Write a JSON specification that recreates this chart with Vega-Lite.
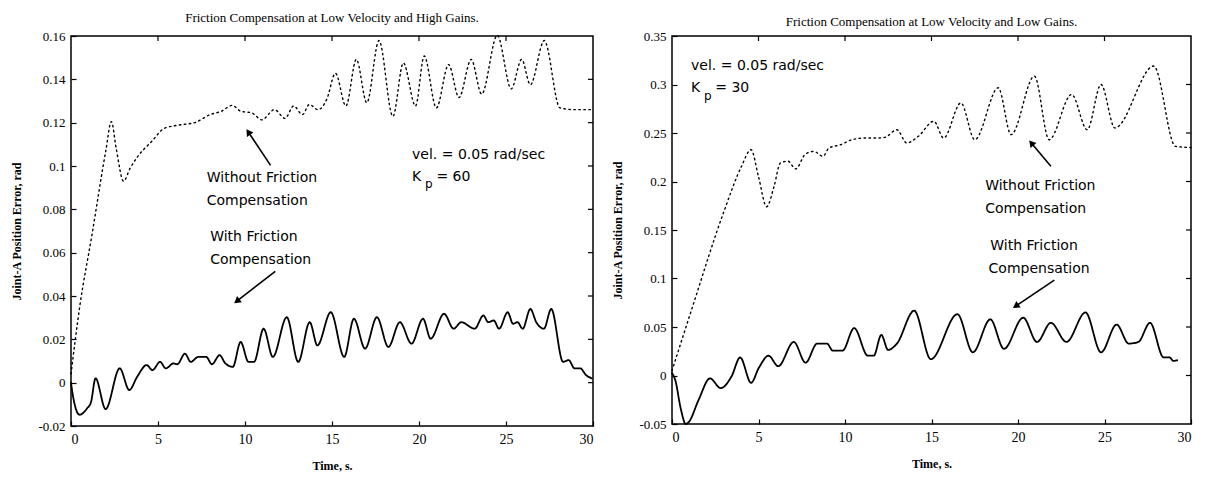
{
  "$schema": "https://vega.github.io/schema/vega-lite/v6.json",
  "padding": {"left": 10, "top": 11, "right": 5, "bottom": 5},
  "spacing": 14,
  "config": {
    "view": {"stroke": "black", "strokeWidth": 1.5},
    "axis": {"grid": false, "domain": false, "tickColor": "black", "tickSize": -5, "tickWidth": 1.2, "labelColor": "black", "titleColor": "black", "labelFont": "Liberation Serif", "titleFont": "Liberation Serif", "labelFontSize": 13, "titleFontSize": 12, "titleFontWeight": "bold"},
    "title": {"font": "Liberation Serif", "fontSize": 13, "fontWeight": "normal", "color": "black"},
    "text": {"font": "DejaVu Sans", "fontSize": 14, "letterSpacing": 1, "color": "black"}
  },
  "datasets": {
    "leftCurves": [
      {"t": 0, "v": 0.004, "s": "without"}, {"t": 0.5, "v": 0.035, "s": "without"}, {"t": 1.2, "v": 0.068, "s": "without"}, {"t": 2.0, "v": 0.107, "s": "without"}, {"t": 2.32, "v": 0.1205, "s": "without"}, {"t": 2.6, "v": 0.108, "s": "without"}, {"t": 3.02, "v": 0.093, "s": "without"}, {"t": 3.4, "v": 0.099, "s": "without"}, {"t": 3.8, "v": 0.104, "s": "without"}, {"t": 4.68, "v": 0.1117, "s": "without"}, {"t": 5.34, "v": 0.1173, "s": "without"}, {"t": 6.2, "v": 0.1189, "s": "without"}, {"t": 7.1, "v": 0.12, "s": "without"}, {"t": 7.99, "v": 0.1237, "s": "without"}, {"t": 8.65, "v": 0.1253, "s": "without"}, {"t": 9.27, "v": 0.128, "s": "without"}, {"t": 9.75, "v": 0.1253, "s": "without"}, {"t": 10.4, "v": 0.1245, "s": "without"}, {"t": 10.96, "v": 0.1213, "s": "without"}, {"t": 11.7, "v": 0.126, "s": "without"}, {"t": 12.3, "v": 0.122, "s": "without"}, {"t": 12.8, "v": 0.1277, "s": "without"}, {"t": 13.3, "v": 0.1237, "s": "without"}, {"t": 13.7, "v": 0.1284, "s": "without"}, {"t": 14.2, "v": 0.126, "s": "without"}, {"t": 14.7, "v": 0.1308, "s": "without"}, {"t": 15.2, "v": 0.1428, "s": "without"}, {"t": 15.8, "v": 0.1277, "s": "without"}, {"t": 16.4, "v": 0.1492, "s": "without"}, {"t": 17.0, "v": 0.1292, "s": "without"}, {"t": 17.7, "v": 0.1579, "s": "without"}, {"t": 18.5, "v": 0.1229, "s": "without"}, {"t": 19.1, "v": 0.1476, "s": "without"}, {"t": 19.8, "v": 0.1277, "s": "without"}, {"t": 20.3, "v": 0.1508, "s": "without"}, {"t": 21.0, "v": 0.1268, "s": "without"}, {"t": 21.7, "v": 0.1468, "s": "without"}, {"t": 22.3, "v": 0.1316, "s": "without"}, {"t": 23.0, "v": 0.1492, "s": "without"}, {"t": 23.6, "v": 0.1332, "s": "without"}, {"t": 24.5, "v": 0.1603, "s": "without"}, {"t": 25.3, "v": 0.1356, "s": "without"}, {"t": 25.9, "v": 0.1492, "s": "without"}, {"t": 26.4, "v": 0.1375, "s": "without"}, {"t": 27.2, "v": 0.1579, "s": "without"}, {"t": 28.1, "v": 0.1268, "s": "without"}, {"t": 29.0, "v": 0.126, "s": "without"}, {"t": 30, "v": 0.126, "s": "without"},
      {"t": 0, "v": 0.0, "s": "with"}, {"t": 0.09, "v": -0.005, "s": "with"}, {"t": 0.49, "v": -0.0148, "s": "with"}, {"t": 0.93, "v": -0.0118, "s": "with"}, {"t": 1.15, "v": -0.009, "s": "with"}, {"t": 1.41, "v": 0.002, "s": "with"}, {"t": 1.99, "v": -0.0122, "s": "with"}, {"t": 2.8, "v": 0.0066, "s": "with"}, {"t": 3.35, "v": -0.0034, "s": "with"}, {"t": 3.8, "v": 0.0027, "s": "with"}, {"t": 4.35, "v": 0.0081, "s": "with"}, {"t": 4.68, "v": 0.0058, "s": "with"}, {"t": 5.12, "v": 0.0096, "s": "with"}, {"t": 5.45, "v": 0.0066, "s": "with"}, {"t": 5.89, "v": 0.0089, "s": "with"}, {"t": 6.11, "v": 0.0085, "s": "with"}, {"t": 6.55, "v": 0.0134, "s": "with"}, {"t": 6.88, "v": 0.0096, "s": "with"}, {"t": 7.32, "v": 0.0119, "s": "with"}, {"t": 7.77, "v": 0.0119, "s": "with"}, {"t": 8.1, "v": 0.0085, "s": "with"}, {"t": 8.54, "v": 0.0127, "s": "with"}, {"t": 8.87, "v": 0.0089, "s": "with"}, {"t": 9.3, "v": 0.0073, "s": "with"}, {"t": 9.75, "v": 0.0188, "s": "with"}, {"t": 10.2, "v": 0.0096, "s": "with"}, {"t": 10.52, "v": 0.0096, "s": "with"}, {"t": 11.07, "v": 0.0249, "s": "with"}, {"t": 11.6, "v": 0.0119, "s": "with"}, {"t": 12.4, "v": 0.0302, "s": "with"}, {"t": 13.06, "v": 0.0096, "s": "with"}, {"t": 13.72, "v": 0.0279, "s": "with"}, {"t": 14.16, "v": 0.0172, "s": "with"}, {"t": 14.93, "v": 0.0325, "s": "with"}, {"t": 15.7, "v": 0.0119, "s": "with"}, {"t": 16.26, "v": 0.0295, "s": "with"}, {"t": 16.9, "v": 0.0157, "s": "with"}, {"t": 17.58, "v": 0.0302, "s": "with"}, {"t": 18.24, "v": 0.0165, "s": "with"}, {"t": 18.9, "v": 0.0279, "s": "with"}, {"t": 19.57, "v": 0.018, "s": "with"}, {"t": 20.23, "v": 0.0295, "s": "with"}, {"t": 20.67, "v": 0.0203, "s": "with"}, {"t": 21.44, "v": 0.0318, "s": "with"}, {"t": 21.99, "v": 0.0249, "s": "with"}, {"t": 22.43, "v": 0.0279, "s": "with"}, {"t": 23.2, "v": 0.0249, "s": "with"}, {"t": 23.7, "v": 0.031, "s": "with"}, {"t": 23.98, "v": 0.0279, "s": "with"}, {"t": 24.3, "v": 0.0287, "s": "with"}, {"t": 24.6, "v": 0.0249, "s": "with"}, {"t": 25.1, "v": 0.0325, "s": "with"}, {"t": 25.4, "v": 0.0272, "s": "with"}, {"t": 25.66, "v": 0.0279, "s": "with"}, {"t": 25.96, "v": 0.0249, "s": "with"}, {"t": 26.4, "v": 0.034, "s": "with"}, {"t": 26.74, "v": 0.0279, "s": "with"}, {"t": 27.18, "v": 0.0249, "s": "with"}, {"t": 27.6, "v": 0.034, "s": "with"}, {"t": 28.28, "v": 0.0096, "s": "with"}, {"t": 28.6, "v": 0.0104, "s": "with"}, {"t": 28.94, "v": 0.0066, "s": "with"}, {"t": 29.27, "v": 0.0066, "s": "with"}, {"t": 29.6, "v": 0.0035, "s": "with"}, {"t": 29.93, "v": 0.002, "s": "with"}
    ],
    "rightCurves": [
      {"t": 0, "v": 0.005, "s": "without"}, {"t": 1.08, "v": 0.065, "s": "without"}, {"t": 3.0, "v": 0.169, "s": "without"}, {"t": 4.0, "v": 0.215, "s": "without"}, {"t": 4.57, "v": 0.2328, "s": "without"}, {"t": 5.0, "v": 0.205, "s": "without"}, {"t": 5.47, "v": 0.174, "s": "without"}, {"t": 5.9, "v": 0.195, "s": "without"}, {"t": 6.26, "v": 0.219, "s": "without"}, {"t": 6.7, "v": 0.221, "s": "without"}, {"t": 7.15, "v": 0.213, "s": "without"}, {"t": 7.7, "v": 0.228, "s": "without"}, {"t": 8.2, "v": 0.231, "s": "without"}, {"t": 8.73, "v": 0.226, "s": "without"}, {"t": 9.07, "v": 0.2345, "s": "without"}, {"t": 9.74, "v": 0.2379, "s": "without"}, {"t": 10.4, "v": 0.2431, "s": "without"}, {"t": 11.1, "v": 0.2448, "s": "without"}, {"t": 11.8, "v": 0.2448, "s": "without"}, {"t": 12.3, "v": 0.2455, "s": "without"}, {"t": 13.0, "v": 0.2534, "s": "without"}, {"t": 13.57, "v": 0.2397, "s": "without"}, {"t": 14.24, "v": 0.2466, "s": "without"}, {"t": 15.14, "v": 0.2621, "s": "without"}, {"t": 15.7, "v": 0.2448, "s": "without"}, {"t": 16.7, "v": 0.281, "s": "without"}, {"t": 17.5, "v": 0.2431, "s": "without"}, {"t": 18.86, "v": 0.2966, "s": "without"}, {"t": 19.6, "v": 0.2483, "s": "without"}, {"t": 20.95, "v": 0.3086, "s": "without"}, {"t": 21.8, "v": 0.2431, "s": "without"}, {"t": 23.1, "v": 0.2897, "s": "without"}, {"t": 24.0, "v": 0.2534, "s": "without"}, {"t": 24.8, "v": 0.3, "s": "without"}, {"t": 25.6, "v": 0.2552, "s": "without"}, {"t": 27.85, "v": 0.319, "s": "without"}, {"t": 29.1, "v": 0.2362, "s": "without"}, {"t": 30, "v": 0.235, "s": "without"},
      {"t": 0, "v": 0.0025, "s": "with"}, {"t": 0.18, "v": -0.0042, "s": "with"}, {"t": 0.52, "v": -0.0353, "s": "with"}, {"t": 0.79, "v": -0.05, "s": "with"}, {"t": 0.97, "v": -0.048, "s": "with"}, {"t": 1.53, "v": -0.0255, "s": "with"}, {"t": 2.2, "v": -0.003, "s": "with"}, {"t": 2.81, "v": -0.013, "s": "with"}, {"t": 3.44, "v": -0.001, "s": "with"}, {"t": 3.94, "v": 0.0186, "s": "with"}, {"t": 4.57, "v": -0.0075, "s": "with"}, {"t": 5.02, "v": 0.0079, "s": "with"}, {"t": 5.58, "v": 0.0204, "s": "with"}, {"t": 6.14, "v": 0.0096, "s": "with"}, {"t": 7.04, "v": 0.0346, "s": "with"}, {"t": 7.72, "v": 0.0132, "s": "with"}, {"t": 8.39, "v": 0.0329, "s": "with"}, {"t": 8.96, "v": 0.0329, "s": "with"}, {"t": 9.29, "v": 0.0257, "s": "with"}, {"t": 9.86, "v": 0.0257, "s": "with"}, {"t": 10.53, "v": 0.0489, "s": "with"}, {"t": 11.32, "v": 0.0204, "s": "with"}, {"t": 11.66, "v": 0.0204, "s": "with"}, {"t": 12.1, "v": 0.0418, "s": "with"}, {"t": 12.49, "v": 0.0264, "s": "with"}, {"t": 13.0, "v": 0.0329, "s": "with"}, {"t": 14.0, "v": 0.0668, "s": "with"}, {"t": 14.96, "v": 0.0168, "s": "with"}, {"t": 16.5, "v": 0.0632, "s": "with"}, {"t": 17.39, "v": 0.0239, "s": "with"}, {"t": 18.4, "v": 0.0579, "s": "with"}, {"t": 19.19, "v": 0.0275, "s": "with"}, {"t": 20.3, "v": 0.0596, "s": "with"}, {"t": 21.1, "v": 0.0346, "s": "with"}, {"t": 21.9, "v": 0.0543, "s": "with"}, {"t": 22.8, "v": 0.0346, "s": "with"}, {"t": 23.9, "v": 0.065, "s": "with"}, {"t": 24.8, "v": 0.0239, "s": "with"}, {"t": 25.7, "v": 0.0525, "s": "with"}, {"t": 26.4, "v": 0.0329, "s": "with"}, {"t": 26.96, "v": 0.0346, "s": "with"}, {"t": 27.63, "v": 0.0543, "s": "with"}, {"t": 28.42, "v": 0.0186, "s": "with"}, {"t": 28.76, "v": 0.0186, "s": "with"}, {"t": 28.98, "v": 0.015, "s": "with"}, {"t": 29.2, "v": 0.0157, "s": "with"}
    ],
    "leftText": [
      {"t": 19.6, "v": 0.105, "label": "vel. = 0.05 rad/sec"},
      {"t": 19.6, "v": 0.095, "label": "K"},
      {"t": 21.0, "v": 0.095, "label": "= 60"},
      {"t": 7.8, "v": 0.0943, "label": "Without Friction"},
      {"t": 7.8, "v": 0.0838, "label": "Compensation"},
      {"t": 8.0, "v": 0.0672, "label": "With Friction"},
      {"t": 8.0, "v": 0.0567, "label": "Compensation"}
    ],
    "leftSub": [{"t": 20.35, "v": 0.0915, "label": "p"}],
    "leftArrows": [
      {"t": 11.47, "v": 0.1003, "t2": 10.19, "v2": 0.1157, "angle": 326},
      {"t": 11.74, "v": 0.0514, "t2": 9.53, "v2": 0.0376, "angle": 232}
    ],
    "leftXTicks": [{"t": 5, "v": 0.16}, {"t": 10, "v": 0.16}, {"t": 15, "v": 0.16}, {"t": 20, "v": 0.16}, {"t": 25, "v": 0.16}],
    "leftYTicks": [{"t": 30, "v": 0}, {"t": 30, "v": 0.02}, {"t": 30, "v": 0.04}, {"t": 30, "v": 0.06}, {"t": 30, "v": 0.08}, {"t": 30, "v": 0.1}, {"t": 30, "v": 0.12}, {"t": 30, "v": 0.14}],
    "rightText": [
      {"t": 1.1, "v": 0.319, "label": "vel. = 0.05 rad/sec"},
      {"t": 1.1, "v": 0.296, "label": "K"},
      {"t": 2.5, "v": 0.296, "label": "= 30"},
      {"t": 18.1, "v": 0.1956, "label": "Without Friction"},
      {"t": 18.1, "v": 0.1721, "label": "Compensation"},
      {"t": 18.4, "v": 0.1336, "label": "With Friction"},
      {"t": 18.3, "v": 0.110, "label": "Compensation"}
    ],
    "rightSub": [{"t": 1.85, "v": 0.2885, "label": "p"}],
    "rightArrows": [
      {"t": 21.9, "v": 0.2158, "t2": 20.77, "v2": 0.2397, "angle": 320},
      {"t": 22.1, "v": 0.0983, "t2": 19.87, "v2": 0.0715, "angle": 236}
    ],
    "rightXTicks": [{"t": 5, "v": 0.35}, {"t": 10, "v": 0.35}, {"t": 15, "v": 0.35}, {"t": 20, "v": 0.35}, {"t": 25, "v": 0.35}],
    "rightYTicks": [{"t": 30, "v": 0}, {"t": 30, "v": 0.05}, {"t": 30, "v": 0.1}, {"t": 30, "v": 0.15}, {"t": 30, "v": 0.2}, {"t": 30, "v": 0.25}, {"t": 30, "v": 0.3}]
  },
  "hconcat": [
    {
      "width": 522,
      "height": 390,
      "title": {"text": "Friction Compensation at Low Velocity and High Gains.", "offset": 5},
      "encoding": {
        "x": {"field": "t", "type": "quantitative", "scale": {"domain": [0, 30], "nice": false}, "axis": {"values": [0, 5, 10, 15, 20, 25, 30], "title": "Time, s.", "labelPadding": 11, "titlePadding": 14, "labelFontSize": 14}},
        "y": {"field": "v", "type": "quantitative", "scale": {"domain": [-0.02, 0.16], "nice": false, "zero": false}, "axis": {"values": [-0.02, 0, 0.02, 0.04, 0.06, 0.08, 0.1, 0.12, 0.14, 0.16], "labelExpr": "replace(format(datum.value, '~g'), '\u2212', '-')", "title": "Joint-A Position Error, rad", "labelPadding": 11, "titlePadding": 14}}
      },
      "layer": [
        {
          "data": {"name": "leftCurves"},
          "mark": {"type": "line", "interpolate": "monotone", "strokeCap": "round", "color": "black"},
          "encoding": {
            "strokeDash": {"field": "s", "type": "nominal", "scale": {"domain": ["without", "with"], "range": [[1.5, 3.5], [1, 0]]}, "legend": null},
            "strokeWidth": {"field": "s", "type": "nominal", "scale": {"domain": ["without", "with"], "range": [1.4, 1.8]}, "legend": null}
          }
        },
        {
          "data": {"name": "leftText"},
          "mark": {"type": "text", "align": "left", "baseline": "middle"},
          "encoding": {"text": {"field": "label"}}
        },
        {
          "data": {"name": "leftSub"},
          "mark": {"type": "text", "align": "left", "baseline": "middle", "fontSize": 12},
          "encoding": {"text": {"field": "label"}}
        },
        {
          "data": {"name": "leftArrows"},
          "mark": {"type": "rule", "strokeWidth": 1.6, "color": "black"},
          "encoding": {"x2": {"field": "t2"}, "y2": {"field": "v2"}}
        },
        {
          "data": {"name": "leftArrows"},
          "mark": {"type": "point", "shape": "triangle-up", "filled": true, "color": "black", "size": 60, "opacity": 1},
          "encoding": {"x": {"field": "t2", "type": "quantitative"}, "y": {"field": "v2", "type": "quantitative"}, "angle": {"field": "angle", "type": "quantitative", "scale": null}}
        },
        {
          "data": {"name": "leftXTicks"},
          "mark": {"type": "tick", "orient": "vertical", "size": 10, "thickness": 1.2, "color": "black", "clip": true, "opacity": 1}
        },
        {
          "data": {"name": "leftYTicks"},
          "mark": {"type": "tick", "orient": "horizontal", "size": 10, "thickness": 1.2, "color": "black", "clip": true, "opacity": 1}
        }
      ]
    },
    {
      "width": 519,
      "height": 388,
      "title": {"text": "Friction Compensation at Low Velocity and Low Gains.", "offset": 1},
      "encoding": {
        "x": {"field": "t", "type": "quantitative", "scale": {"domain": [0, 30], "nice": false}, "axis": {"values": [0, 5, 10, 15, 20, 25, 30], "title": "Time, s.", "labelPadding": 11, "titlePadding": 14, "labelFontSize": 14}},
        "y": {"field": "v", "type": "quantitative", "scale": {"domain": [-0.05, 0.35], "nice": false, "zero": false}, "axis": {"values": [-0.05, 0, 0.05, 0.1, 0.15, 0.2, 0.25, 0.3, 0.35], "labelExpr": "replace(format(datum.value, '~g'), '\u2212', '-')", "title": "Joint-A Position Error, rad", "labelPadding": 11, "titlePadding": 14}}
      },
      "layer": [
        {
          "data": {"name": "rightCurves"},
          "mark": {"type": "line", "interpolate": "monotone", "strokeCap": "round", "color": "black"},
          "encoding": {
            "strokeDash": {"field": "s", "type": "nominal", "scale": {"domain": ["without", "with"], "range": [[1.5, 3.5], [1, 0]]}, "legend": null},
            "strokeWidth": {"field": "s", "type": "nominal", "scale": {"domain": ["without", "with"], "range": [1.4, 1.8]}, "legend": null}
          }
        },
        {
          "data": {"name": "rightText"},
          "mark": {"type": "text", "align": "left", "baseline": "middle"},
          "encoding": {"text": {"field": "label"}}
        },
        {
          "data": {"name": "rightSub"},
          "mark": {"type": "text", "align": "left", "baseline": "middle", "fontSize": 12},
          "encoding": {"text": {"field": "label"}}
        },
        {
          "data": {"name": "rightArrows"},
          "mark": {"type": "rule", "strokeWidth": 1.6, "color": "black"},
          "encoding": {"x2": {"field": "t2"}, "y2": {"field": "v2"}}
        },
        {
          "data": {"name": "rightArrows"},
          "mark": {"type": "point", "shape": "triangle-up", "filled": true, "color": "black", "size": 60, "opacity": 1},
          "encoding": {"x": {"field": "t2", "type": "quantitative"}, "y": {"field": "v2", "type": "quantitative"}, "angle": {"field": "angle", "type": "quantitative", "scale": null}}
        },
        {
          "data": {"name": "rightXTicks"},
          "mark": {"type": "tick", "orient": "vertical", "size": 10, "thickness": 1.2, "color": "black", "clip": true, "opacity": 1}
        },
        {
          "data": {"name": "rightYTicks"},
          "mark": {"type": "tick", "orient": "horizontal", "size": 10, "thickness": 1.2, "color": "black", "clip": true, "opacity": 1}
        }
      ]
    }
  ]
}
